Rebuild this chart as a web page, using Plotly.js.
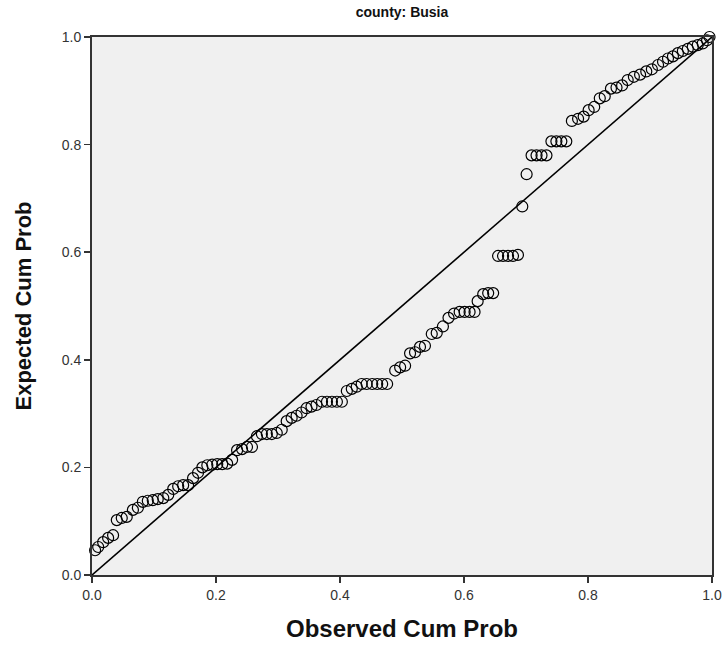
<!DOCTYPE html>
<html>
<head>
<meta charset="utf-8">
<script src="https://cdn.plot.ly/plotly-3.0.1.min.js"></script>
<style>html,body{margin:0;padding:0;background:#fff;}#chart{width:723px;height:648px;}</style>
</head>
<body>
<div id="chart"></div>
<script>
const chartTitle = "county: Busia";
const xAxisTitle = "Observed Cum Prob";
const yAxisTitle = "Expected Cum Prob";
const tickValues = [0, 0.2, 0.4, 0.6, 0.8, 1.0];
const tickLabels = ["0.0", "0.2", "0.4", "0.6", "0.8", "1.0"];

const observedCumProb = [
  0.005,0.010,0.018,0.026,0.034,0.040,0.048,0.056,0.066,0.074,
  0.082,0.090,0.098,0.106,0.115,0.123,0.131,0.139,0.147,0.155,
  0.163,0.171,0.178,0.186,0.194,0.202,0.210,0.218,0.226,0.234,
  0.242,0.250,0.258,0.266,0.274,0.282,0.290,0.298,0.306,0.314,
  0.322,0.330,0.338,0.346,0.354,0.362,0.371,0.379,0.387,0.395,
  0.403,0.411,0.419,0.427,0.435,0.443,0.452,0.460,0.468,0.476,
  0.489,0.497,0.505,0.513,0.521,0.529,0.537,0.548,0.556,0.566,
  0.575,0.584,0.593,0.601,0.609,0.617,0.622,0.631,0.639,0.647,
  0.655,0.663,0.671,0.679,0.687,0.694,0.701,0.709,0.717,0.725,
  0.733,0.741,0.749,0.757,0.765,0.774,0.784,0.793,0.801,0.810,
  0.819,0.827,0.837,0.846,0.855,0.864,0.874,0.884,0.894,0.903,
  0.913,0.921,0.929,0.937,0.945,0.953,0.961,0.969,0.977,0.985,
  0.992,0.996
];
const expectedCumProb = [
  0.046,0.052,0.061,0.069,0.074,0.102,0.106,0.108,0.121,0.125,
  0.136,0.138,0.139,0.141,0.143,0.149,0.160,0.165,0.167,0.167,
  0.180,0.190,0.200,0.204,0.205,0.206,0.206,0.207,0.214,0.232,
  0.234,0.238,0.238,0.258,0.262,0.262,0.262,0.264,0.270,0.286,
  0.292,0.296,0.302,0.310,0.313,0.316,0.322,0.322,0.322,0.322,
  0.322,0.342,0.346,0.350,0.355,0.355,0.355,0.355,0.355,0.355,
  0.380,0.386,0.389,0.412,0.414,0.424,0.426,0.448,0.450,0.462,
  0.478,0.486,0.489,0.489,0.489,0.489,0.509,0.522,0.524,0.524,
  0.593,0.593,0.593,0.593,0.595,0.685,0.745,0.780,0.780,0.780,
  0.780,0.806,0.806,0.806,0.806,0.844,0.848,0.852,0.864,0.870,
  0.886,0.890,0.904,0.906,0.910,0.920,0.926,0.930,0.936,0.940,
  0.948,0.954,0.960,0.964,0.970,0.974,0.978,0.982,0.985,0.988,
  0.994,1.000
];
const refLineX = [0, 1];
const refLineY = [0, 1];

const traces = [
  {
    x: refLineX, y: refLineY, type: "scatter", mode: "lines",
    line: {color: "#000000", width: 1.6}, hoverinfo: "skip", showlegend: false,
    cliponaxis: true
  },
  {
    x: observedCumProb, y: expectedCumProb, type: "scatter", mode: "markers",
    marker: {symbol: "circle-open", size: 11, color: "#000000", line: {width: 1.2, color: "#000000"}},
    showlegend: false, cliponaxis: false
  }
];

const axisCommon = {
  range: [0, 1],
  tickvals: tickValues,
  ticktext: tickLabels,
  ticks: "outside",
  ticklen: 6,
  tickwidth: 1.5,
  tickcolor: "#333333",
  showline: true,
  linecolor: "#333333",
  linewidth: 2,
  mirror: true,
  showgrid: false,
  zeroline: false,
  tickfont: {family: "Liberation Sans, Arial, sans-serif", size: 14, color: "#333333"},
  fixedrange: true
};

const layout = {
  width: 723,
  height: 648,
  margin: {l: 92, r: 11, t: 37, b: 73},
  paper_bgcolor: "#ffffff",
  plot_bgcolor: "#f0f0f0",
  showlegend: false,
  title: {
    text: "<b>" + chartTitle + "</b>",
    font: {family: "Liberation Sans, Arial, sans-serif", size: 14, color: "#111111"},
    x: 0.5, xanchor: "center", xref: "paper", y: 0.982, yanchor: "middle"
  },
  xaxis: Object.assign({}, axisCommon, {
    title: {text: "<b>" + xAxisTitle + "</b>", font: {family: "Liberation Sans, Arial, sans-serif", size: 24, color: "#111111"}, standoff: 18}
  }),
  yaxis: Object.assign({}, axisCommon, {
    title: {text: "<b>" + yAxisTitle + "</b>", font: {family: "Liberation Sans, Arial, sans-serif", size: 22, color: "#111111"}, standoff: 24}
  })
};

Plotly.newPlot("chart", traces, layout, {displayModeBar: false, staticPlot: true});
</script>
</body>
</html>
